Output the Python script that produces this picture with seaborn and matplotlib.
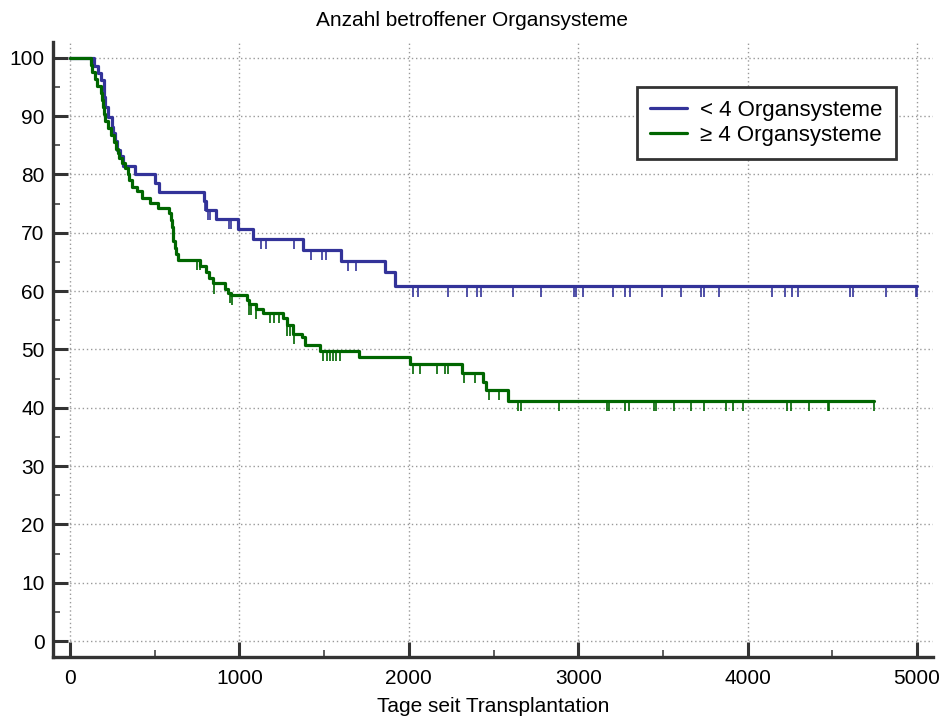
import numpy as np
import pandas as pd
import seaborn as sns
import matplotlib
matplotlib.use("Agg")
import matplotlib.pyplot as plt
from matplotlib.ticker import MultipleLocator

# ------------------------------------------------------------
# Daten: Kaplan-Meier-Stufen und zensierte Zeitpunkte
# ------------------------------------------------------------
gruppen = ["< 4 Organsysteme", "\u2265 4 Organsysteme"]

blau_t = [0, 142, 165, 185, 200, 203, 207, 226, 246, 256, 266, 276, 295, 310,
          384, 502, 527, 790, 800, 861, 994, 1078, 1376, 1602, 1861, 1920, 5000]
blau_s = [100, 98.6, 97.3, 96.2, 94.7, 93.2, 91.6, 89.9, 88.2, 87.1, 85.7, 84.2,
          83.1, 81.4, 80.0, 78.5, 77.0, 75.4, 73.9, 72.35, 70.6, 68.9, 67.1,
          65.2, 63.3, 60.8, 60.8]
blau_zens = [797, 813, 826, 939, 949, 1125, 1155, 1324, 1422, 1490, 1510, 1641,
             1690, 2023, 2053, 2232, 2344, 2403, 2424, 2612, 2781, 2977, 2986,
             3026, 3205, 3277, 3305, 3495, 3604, 3723, 3742, 3832, 4143, 4219,
             4261, 4297, 4605, 4624, 4818, 4993, 5000]

gruen_t = [0, 122, 132, 145, 160, 180, 190, 195, 200, 207, 222, 240, 258, 272,
           282, 292, 306, 325, 340, 348, 364, 394, 423, 472, 521, 585, 595, 600,
           605, 610, 620, 628, 640, 770, 800, 822, 843, 916, 930, 950, 1043,
           1055, 1098, 1141, 1259, 1278, 1318, 1367, 1386, 1478, 1706, 2006,
           2312, 2439, 2454, 2587, 4744]
gruen_s = [100, 98.8, 97.6, 96.4, 95.2, 94.0, 92.8, 91.6, 90.4, 89.2, 88.0, 86.8,
           85.6, 84.4, 83.6, 82.8, 81.9, 81.1, 80.0, 79.0, 77.9, 77.1, 75.9, 75.1,
           74.2, 73.4, 72.2, 71.0, 69.8, 68.6, 67.4, 66.4, 65.3, 64.3, 63.3, 62.3,
           61.3, 60.3, 59.7, 59.3, 58.4, 57.7, 57.0, 56.2, 55.3, 54.1, 52.7, 52.1,
           50.8, 49.7, 48.7, 47.5, 46.0, 44.4, 43.0, 41.2, 41.2]
gruen_zens = [749, 769, 847, 945, 955, 1059, 1069, 1098, 1180, 1206, 1233, 1282,
              1298, 1324, 1494, 1514, 1533, 1553, 1573, 1596, 2027, 2063, 2165,
              2213, 2232, 2323, 2393, 2471, 2530, 2644, 2661, 2889, 3170, 3184,
              3277, 3298, 3446, 3459, 3564, 3667, 3744, 3870, 3913, 3974, 4233,
              4254, 4360, 4472, 4478, 4744]

farben = {gruppen[0]: "#333399", gruppen[1]: "#006600"}

# ------------------------------------------------------------
# Stil
# ------------------------------------------------------------
sns.set_style("white")
plt.rcParams["font.family"] = ["Liberation Sans", "DejaVu Sans"]
plt.rcParams["font.size"] = 15
plt.rcParams["text.color"] = "black"
plt.rcParams["axes.labelcolor"] = "black"
plt.rcParams["xtick.color"] = "#333333"
plt.rcParams["ytick.color"] = "#333333"
plt.rcParams["xtick.labelcolor"] = "black"
plt.rcParams["ytick.labelcolor"] = "black"

df = pd.concat([
    pd.DataFrame({"t": blau_t, "S": blau_s, "Gruppe": gruppen[0]}),
    pd.DataFrame({"t": gruen_t, "S": gruen_s, "Gruppe": gruppen[1]}),
], ignore_index=True)

fig = plt.figure(figsize=(9.44, 7.23), dpi=100)
ax = fig.add_axes([53 / 944, 1 - 657 / 723, 880 / 944, 615 / 723])

sns.lineplot(data=df, x="t", y="S", hue="Gruppe", palette=farben,
             estimator=None, sort=False, drawstyle="steps-post",
             linewidth=2.3, ax=ax)

# Zensierungsstriche
def stufe(t_werte, s_werte, t):
    i = np.searchsorted(t_werte, t, side="right") - 1
    return np.asarray(s_werte)[i]

for name, tw, sw, zens in [(gruppen[0], blau_t, blau_s, blau_zens),
                           (gruppen[1], gruen_t, gruen_s, gruen_zens)]:
    y = stufe(tw, sw, zens)
    ax.vlines(zens, y - 1.75, y, color=farben[name], linewidth=1.2)

# Achsen
ax.set_xlim(-100.4, 5094)
ax.set_ylim(-2.74, 102.7)
ax.xaxis.set_major_locator(MultipleLocator(1000))
ax.xaxis.set_minor_locator(MultipleLocator(500))
ax.yaxis.set_major_locator(MultipleLocator(10))
ax.yaxis.set_minor_locator(MultipleLocator(5))
ax.tick_params(which="both", bottom=True, left=True, top=False, right=False)
ax.tick_params(which="major", direction="in", length=11, width=2.2,
               color="#333333", labelcolor="black", labelsize=15)
ax.tick_params(which="minor", direction="in", length=5, width=1.1,
               color="#333333")
ax.tick_params(axis="x", which="major", pad=9)
ax.tick_params(axis="y", which="major", pad=6)

ax.grid(True, which="major", linestyle=(0, (1, 2)), color="#999999",
        linewidth=1.0)
for s in ["top", "right"]:
    ax.spines[s].set_visible(False)
for s in ["left", "bottom"]:
    ax.spines[s].set_linewidth(2.4)
    ax.spines[s].set_color("#333333")

ax.set_xlabel("Tage seit Transplantation", fontsize=15, labelpad=6)
ax.set_ylabel("")
fig.suptitle("Anzahl betroffener Organsysteme", fontsize=15, y=0.985)

leg = ax.legend(loc="upper right", bbox_to_anchor=(0.958, 0.927),
                fontsize=16, frameon=True, fancybox=False, framealpha=1,
                edgecolor="#333333", handlelength=1.65, handletextpad=0.6,
                borderpad=0.6, labelspacing=0.15, borderaxespad=0, title=None)
leg.get_frame().set_linewidth(2.0)
for ln in leg.get_lines():
    ln.set_linewidth(2.3)

fig.savefig("out.png", dpi=100)
